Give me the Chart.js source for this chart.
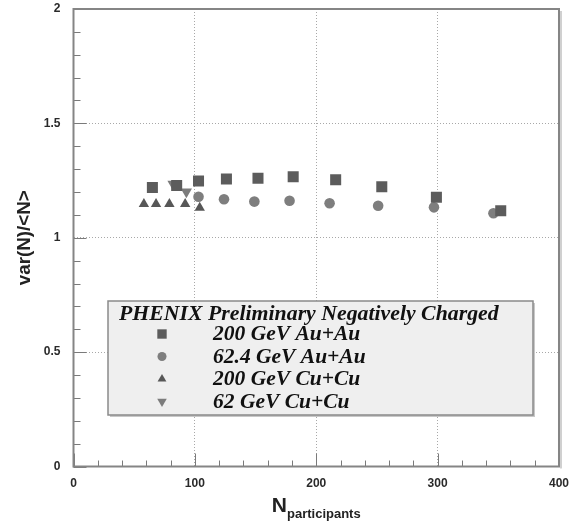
<!DOCTYPE html>
<html>
<head>
<meta charset="utf-8">
<script src="https://cdn.jsdelivr.net/npm/chart.js@4"></script>
<style>
  html, body { margin: 0; padding: 0; background: #fff; }
</style>
</head>
<body>
<canvas id="chart" width="579" height="526"></canvas>
<script>
// var(N)/<N> vs number of participants, negatively charged hadrons
const auAu200Npart = [65, 85, 103, 126, 152, 181, 216, 254, 299, 352];
const auAu200Ratio = [1.22, 1.228, 1.248, 1.257, 1.26, 1.267, 1.254, 1.223, 1.177, 1.118];

const auAu62Npart = [103, 124, 149, 178, 211, 251, 297, 346];
const auAu62Ratio = [1.179, 1.168, 1.158, 1.162, 1.151, 1.14, 1.133, 1.107];

const cuCu200Npart = [58, 68, 79, 92, 104];
const cuCu200Ratio = [1.148, 1.148, 1.148, 1.148, 1.131];

const cuCu62Npart = [82, 93];
const cuCu62Ratio = [1.235, 1.201];

const seriesLabels = ["200 GeV Au+Au", "62.4 GeV Au+Au", "200 GeV Cu+Cu", "62 GeV Cu+Cu"];
const legendTitle = "PHENIX Preliminary Negatively Charged";

const xTicks = [0, 100, 200, 300, 400];
const yTicks = [0, 0.5, 1, 1.5, 2];

function points(xs, ys) {
  return xs.map((x, i) => ({ x, y: ys[i] }));
}

const styles = [
  { pointStyle: "rect", radius: 7.8, rotation: 0, color: "#5c5c5c" },
  { pointStyle: "circle", radius: 5.3, rotation: 0, color: "#7e7e7e" },
  { pointStyle: "triangle", radius: 6, rotation: 0, color: "#575757" },
  { pointStyle: "triangle", radius: 6.5, rotation: 180, color: "#7c7c7c" },
];

const dataSets = [
  points(auAu200Npart, auAu200Ratio),
  points(auAu62Npart, auAu62Ratio),
  points(cuCu200Npart, cuCu200Ratio),
  points(cuCu62Npart, cuCu62Ratio),
];

function drawMarker(ctx, st, x, y, r) {
  ctx.beginPath();
  if (st.pointStyle === "rect") {
    const h = r * Math.SQRT1_2;
    ctx.rect(x - h, y - h, 2 * h, 2 * h);
  } else if (st.pointStyle === "circle") {
    ctx.arc(x, y, r, 0, Math.PI * 2);
  } else {
    let rad = st.rotation * Math.PI / 180;
    for (let k = 0; k < 3; k++) {
      const px = x + Math.sin(rad) * r;
      const py = y - Math.cos(rad) * r;
      if (k === 0) ctx.moveTo(px, py); else ctx.lineTo(px, py);
      rad += Math.PI * 2 / 3;
    }
    ctx.closePath();
  }
  ctx.fillStyle = st.color;
  ctx.fill();
}

// inward ticks, frame, axis titles and the boxed legend
const decorations = {
  id: "decorations",
  afterDatasetsDraw(chart) {
    const { ctx, chartArea: a, scales: { x, y } } = chart;
    ctx.save();

    ctx.strokeStyle = "#7a7a7a";
    ctx.lineWidth = 1;
    ctx.beginPath();
    for (let i = 0; i <= 20; i++) {
      const py = Math.round(y.getPixelForValue(i / 10)) + 0.5;
      const len = i % 5 === 0 ? 13 : 7;
      ctx.moveTo(a.left, py);
      ctx.lineTo(a.left + len, py);
    }
    for (let i = 0; i <= 20; i++) {
      const px = Math.round(x.getPixelForValue(i * 20)) + 0.5;
      const len = i % 5 === 0 ? 13 : 6;
      ctx.moveTo(px, a.bottom);
      ctx.lineTo(px, a.bottom - len);
    }
    ctx.stroke();

    ctx.strokeStyle = "#d0d0d0";
    ctx.lineWidth = 2;
    ctx.beginPath();
    ctx.moveTo(a.right + 2, a.top + 2);
    ctx.lineTo(a.right + 2, a.bottom + 2);
    ctx.stroke();
    ctx.strokeStyle = "#858585";
    ctx.lineWidth = 2;
    ctx.strokeRect(a.left, a.top, a.right - a.left, a.bottom - a.top);

    ctx.fillStyle = "#222";
    ctx.textBaseline = "alphabetic";
    ctx.save();
    ctx.translate(30, (a.top + a.bottom) / 2);
    ctx.rotate(-Math.PI / 2);
    ctx.textAlign = "center";
    ctx.font = "bold 18.8px 'Liberation Sans'";
    ctx.fillText("var(N)/<N>", 0, 0);
    ctx.restore();

    ctx.textAlign = "left";
    ctx.font = "bold 21px 'Liberation Sans'";
    const wN = ctx.measureText("N").width;
    ctx.font = "bold 13px 'Liberation Sans'";
    const wSub = ctx.measureText("participants").width;
    const x0 = (a.left + a.right) / 2 - (wN + wSub) / 2;
    ctx.font = "bold 21px 'Liberation Sans'";
    ctx.fillText("N", x0, 512);
    ctx.font = "bold 13px 'Liberation Sans'";
    ctx.fillText("participants", x0 + wN, 518);

    // legend box
    const bx = 108, by = 301, bw = 425, bh = 114;
    ctx.fillStyle = "#c8c8c8";
    ctx.fillRect(bx + 2, by + 2, bw, bh);
    ctx.fillStyle = "#efefef";
    ctx.fillRect(bx, by, bw, bh);
    ctx.strokeStyle = "#8a8a8a";
    ctx.lineWidth = 1.5;
    ctx.strokeRect(bx, by, bw, bh);

    ctx.fillStyle = "#111";
    ctx.font = "bold italic 21.8px 'Liberation Serif'";
    ctx.fillText(legendTitle, 119, 320);
    const rowBase = [340, 362.5, 385, 407.5];
    seriesLabels.forEach((lab, i) => {
      ctx.fillStyle = "#111";
      ctx.font = "bold italic 21.5px 'Liberation Serif'";
      ctx.fillText(lab, 213, rowBase[i]);
      const st = styles[i];
      drawMarker(ctx, st, 162, rowBase[i] - 6, st.radius * 0.85);
    });

    ctx.restore();
  },
};

new Chart(document.getElementById("chart"), {
  type: "scatter",
  data: {
    datasets: dataSets.map((d, i) => ({
      label: seriesLabels[i],
      data: d,
      pointStyle: styles[i].pointStyle,
      pointRadius: styles[i].radius,
      pointRotation: styles[i].rotation,
      backgroundColor: styles[i].color,
      borderColor: styles[i].color,
      borderWidth: 0,
    })),
  },
  options: {
    responsive: false,
    animation: false,
    devicePixelRatio: 1,
    layout: { padding: { top: 9, right: 19, left: 0, bottom: 0 } },
    plugins: { legend: { display: false }, tooltip: { enabled: false } },
    scales: {
      x: {
        type: "linear",
        min: 0,
        max: 400,
        afterBuildTicks: (s) => { s.ticks = xTicks.map((v) => ({ value: v })); },
        afterFit: (s) => { s.height = 59.5; },
        ticks: {
          padding: 10,
          color: "#2a2a2a",
          font: { family: "'Liberation Sans'", size: 12, weight: "bold" },
          maxRotation: 0,
        },
        grid: {
          drawTicks: false,
          lineWidth: 1,
          color: (c) => (c.tick && (c.tick.value === 0 || c.tick.value === 400) ? "rgba(0,0,0,0)" : "#a8a8a8"),
        },
        border: { display: false, dash: [1, 2] },
      },
      y: {
        type: "linear",
        min: 0,
        max: 2,
        afterBuildTicks: (s) => { s.ticks = yTicks.map((v) => ({ value: v })); },
        afterFit: (s) => { s.width = 73.5; s.paddingTop = 0; s.paddingBottom = 0; },
        ticks: {
          padding: 13,
          color: "#2a2a2a",
          font: { family: "'Liberation Sans'", size: 12, weight: "bold" },
          callback: (v) => String(v),
        },
        grid: {
          drawTicks: false,
          lineWidth: 1,
          color: (c) => (c.tick && (c.tick.value === 0 || c.tick.value === 2) ? "rgba(0,0,0,0)" : "#a8a8a8"),
        },
        border: { display: false, dash: [1, 2] },
      },
    },
  },
  plugins: [decorations],
});
</script>
</body>
</html>
